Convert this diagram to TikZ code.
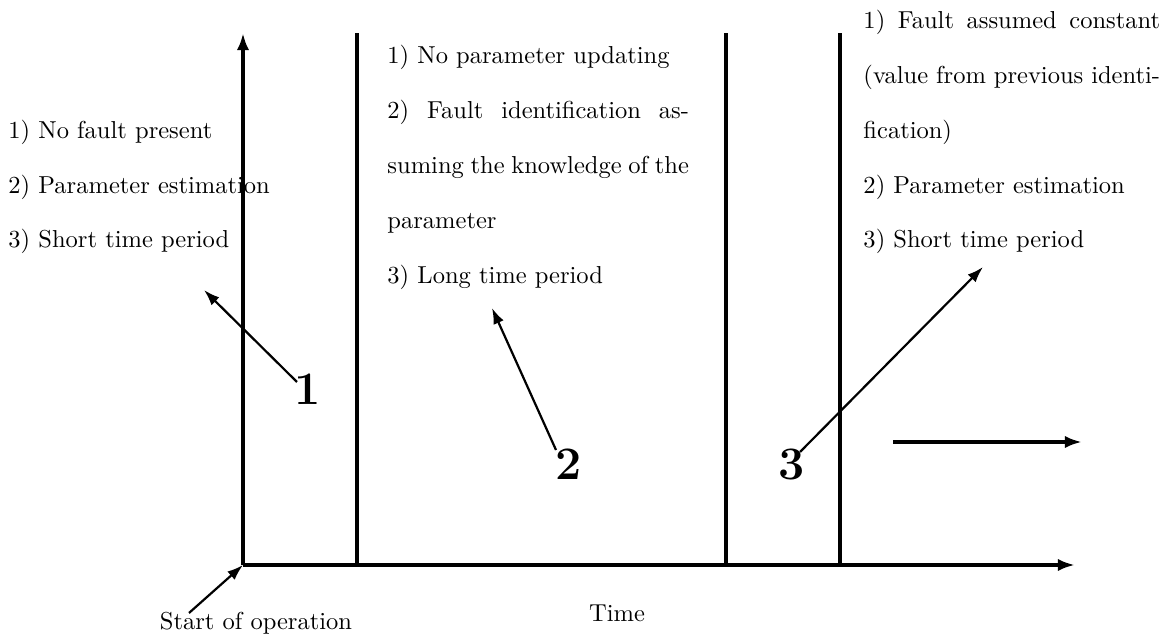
\documentclass[tikz,border=0pt]{standalone}
\usetikzlibrary{arrows.meta}
\begin{document}
\begin{tikzpicture}[x=0.408pt,y=-0.408pt,
  axisline/.style={line width=1.4pt},
  axisarrow/.style={line width=1.4pt,-{Latex[length=7pt,width=5pt]}},
  pointer/.style={line width=0.9pt,-{Latex[length=6.5pt,width=4.5pt]}},
  txt/.style={anchor=base west,inner sep=0pt,font=\fontsize{10pt}{12pt}\selectfont},
  lbl/.style={anchor=base,inner sep=0pt,font=\fontsize{10pt}{12pt}\selectfont},
  num/.style={anchor=base,inner sep=0pt,font=\fontsize{19pt}{22pt}\selectfont\bfseries}]
\useasboundingbox (0,0) rectangle (1168,638);

% axes
\coordinate (O) at (243,565);
\coordinate (ytop) at (243,33);
\coordinate (xend) at (1075,565);
\draw[axisarrow] (O) -- (ytop);
\draw[axisarrow] (O) -- (xend);

% phase boundaries
\coordinate (b1) at (357,565); \coordinate (t1) at (357,33);
\coordinate (b2) at (726,565); \coordinate (t2) at (726,33);
\coordinate (b3) at (840,565); \coordinate (t3) at (840,33);
\draw[axisline] (b1) -- (t1);
\draw[axisline] (b2) -- (t2);
\draw[axisline] (b3) -- (t3);

% continuing operation
\coordinate (c1) at (893,442);
\coordinate (c2) at (1082,442);
\draw[axisarrow] (c1) -- (c2);

% phase 1 notes
\node[txt] (l1) at (8,139) {1) No fault present};
\node[txt] (l2) at (8,194) {2) Parameter estimation};
\node[txt] (l3) at (8,248) {3) Short time period};

% phase 2 notes
\node[txt] (m1) at (387,64) {1) No parameter updating};
\node[txt] (m2) at (387,119) {\makebox[123pt][s]{2) Fault identification as-}};
\node[txt] (m3) at (387,174) {\makebox[123pt][s]{suming the knowledge of the}};
\node[txt] (m4) at (387,229) {parameter};
\node[txt] (m5) at (387,284) {3) Long time period};

% phase 3 notes
\node[txt] (r1) at (863,29) {\makebox[121pt][s]{1) Fault assumed constant}};
\node[txt] (r2) at (863,84) {\makebox[121pt][s]{(value from previous identi-}};
\node[txt] (r3) at (863,139) {fication)};
\node[txt] (r4) at (863,194) {2) Parameter estimation};
\node[txt] (r5) at (863,248) {3) Short time period};

% phase numbers and pointers
\node[num] (n1) at (308,405) {1};
\node[num] (n2) at (569,480) {2};
\node[num] (n3) at (792,480) {3};
\coordinate (p1s) at (297,382); \coordinate (p1e) at (204,290);
\coordinate (p2s) at (556,450); \coordinate (p2e) at (492,308);
\coordinate (p3s) at (800,452); \coordinate (p3e) at (983,267);
\draw[pointer] (p1s) -- (p1e);
\draw[pointer] (p2s) -- (p2e);
\draw[pointer] (p3s) -- (p3e);

% axis labels
\node[lbl] (start) at (256,630) {Start of operation};
\node[lbl] (time) at (617,622) {Time};
\coordinate (s0) at (189,613);
\draw[pointer] (s0) -- (O);
\end{tikzpicture}
\end{document}
